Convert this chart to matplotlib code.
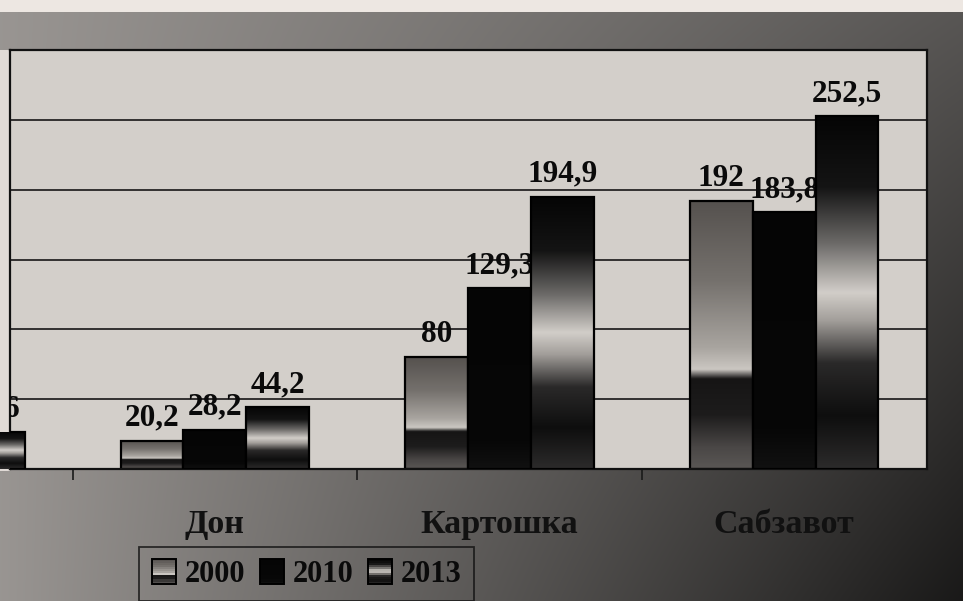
import numpy as np
import matplotlib
matplotlib.use("Agg")
import matplotlib.pyplot as plt
from matplotlib.colors import LinearSegmentedColormap
from matplotlib.patches import Patch, Rectangle
from matplotlib.legend_handler import HandlerBase

# ---------------- data ----------------
categories = ["Пахта", "Дон", "Картошка", "Сабзавот"]
series_names = ["2000", "2010", "2013"]
values_2000 = [12.0, 20.2, 80.0, 192.0]
values_2010 = [18.0, 28.2, 129.3, 183.8]
values_2013 = [26.6, 44.2, 194.9, 252.5]
y_ticks = [0, 50, 100, 150, 200, 250, 300]

series_values = [values_2000, values_2010, values_2013]

# ---------------- style ----------------
FONT = "Liberation Serif"
W_PX, H_PX = 963, 601
fig = plt.figure(figsize=(W_PX / 100, H_PX / 100), dpi=100)

# photographic background (gradient)
ax_bg = fig.add_axes([0, 0, 1, 1], zorder=-1)
ax_bg.set_axis_off()
yy = np.linspace(0, 1, H_PX)[:, None]
xx = np.linspace(0, 1, W_PX)[None, :]
val = 0.60 - 0.25 * xx - 0.25 * xx * yy
val = np.broadcast_to(val, (H_PX, W_PX)).copy()
val[:12, :] = 0.93
rows = np.arange(H_PX)
mask = ((rows >= 50) & (rows <= 470))[:, None]
val[:, :10] = np.where(mask, 0.88, val[:, :10])
rgb = np.stack([val * 1.0, val * 0.975, val * 0.955], axis=-1).clip(0, 1)
ax_bg.imshow(rgb, extent=(0, 1, 0, 1), aspect="auto", origin="upper")
ax_bg.set_xlim(0, 1)
ax_bg.set_ylim(0, 1)

# main axes
left, right = 10 / W_PX, 927 / W_PX
bottom, top = (H_PX - 469) / H_PX, (H_PX - 50) / H_PX
ax = fig.add_axes([left, bottom, right - left, top - bottom])
ax.set_facecolor("#d3cfca")

stops = [
    [(0.00, "#55514e"), (0.30, "#75716d"), (0.55, "#a9a5a0"),
     (0.63, "#cbc7c2"), (0.665, "#161515"), (0.80, "#1d1c1c"),
     (0.92, "#4a4746"), (1.00, "#5a5755")],
    [(0.0, "#050505"), (0.85, "#070707"), (1.0, "#111111")],
    [(0.00, "#050505"), (0.20, "#141414"), (0.36, "#6c6a68"),
     (0.50, "#d2cec9"), (0.58, "#a29e9a"), (0.70, "#2a2929"),
     (0.85, "#0e0e0e"), (1.00, "#2c2b2b")],
]
cmaps = [LinearSegmentedColormap.from_list(f"s{k}", s) for k, s in enumerate(stops)]

n = len(series_names)
bar_w = 0.221
x = np.arange(len(categories))
grad = np.linspace(0, 1, 256)[:, None]

for i, (name, vals) in enumerate(zip(series_names, series_values)):
    offs = (i - (n - 1) / 2) * bar_w
    z = 2 + 2 * i
    bars = ax.bar(x + offs, vals, width=bar_w, color=cmaps[i](0.5),
                  edgecolor="none", zorder=z)
    for b in bars:
        bx, bw, bh = b.get_x(), b.get_width(), b.get_height()
        im = ax.imshow(grad, cmap=cmaps[i], extent=(bx, bx + bw, 0, bh),
                       origin="upper", aspect="auto", zorder=z + 0.1,
                       interpolation="bilinear")
        im.set_clip_path(b)
    ax.bar(x + offs, vals, width=bar_w, fill=False, edgecolor="black",
           linewidth=1.6, zorder=z + 0.2)
    for xi, v in zip(x + offs, vals):
        s = (str(int(v)) if float(v).is_integer() else f"{v:.1f}").replace(".", ",")
        ax.annotate(s, (xi, v), xytext=(0, 6), textcoords="offset points",
                    ha="center", va="bottom", fontsize=22.5, fontweight="bold",
                    family=FONT, color="#0a0a0a", zorder=z + 1,
                    annotation_clip=False, clip_on=True)

ax.set_yticks(y_ticks)
ax.set_yticklabels([])
ax.tick_params(axis="y", length=0)
ax.grid(axis="y", color="#262424", linewidth=1.3, zorder=0.5)
ax.set_axisbelow(True)

ax.set_xticks(x)
ax.set_xticklabels(categories, fontsize=24.5, fontweight="bold", family=FONT,
                   color="#111111")
ax.tick_params(axis="x", which="major", length=0, pad=29)
ax.set_xticks(x[:-1] + 0.5, minor=True)
ax.tick_params(axis="x", which="minor", length=8, width=1.2, color="#1a1a1a",
               direction="out")

# limits last (set_xticks may expand the view)
ax.set_xlim(0.28, 3.502)
ax.set_ylim(0, 300)

for sp in ax.spines.values():
    sp.set_color("#111111")
    sp.set_linewidth(1.6)


class GradientSquareHandler(HandlerBase):
    """Legend key drawn as horizontal colour bands sampled from a colormap."""
    def __init__(self, cmap, nbands=12):
        super().__init__()
        self.cmap = cmap
        self.nbands = nbands

    def create_artists(self, legend, orig_handle, xdescent, ydescent,
                       width, height, fontsize, trans):
        side = min(width, height)
        x0 = -xdescent + (width - side) / 2
        y0 = -ydescent + (height - side) / 2
        arts = []
        hb = side / self.nbands
        for k in range(self.nbands):
            frac = (k + 0.5) / self.nbands
            r = Rectangle((x0, y0 + side - (k + 1) * hb), side, hb * 1.02,
                          facecolor=self.cmap(frac), edgecolor="none",
                          transform=trans)
            arts.append(r)
        arts.append(Rectangle((x0, y0), side, side, fill=False,
                              edgecolor="black", linewidth=1.4, transform=trans))
        return arts


handles = [Patch(label=s) for s in series_names]
leg = fig.legend(handles, series_names, loc="upper left",
                 bbox_to_anchor=(139 / W_PX, 1 - 547 / H_PX),
                 ncol=3, frameon=True, fancybox=False,
                 prop={"family": FONT, "weight": "bold", "size": 22},
                 handlelength=0.85, handleheight=0.85, handletextpad=0.25,
                 columnspacing=0.45, borderpad=0.4, borderaxespad=0,
                 handler_map={h: GradientSquareHandler(cmaps[k])
                              for k, h in enumerate(handles)})
leg.get_frame().set_edgecolor("#111111")
leg.get_frame().set_facecolor("none")
leg.get_frame().set_linewidth(1.3)
for t in leg.get_texts():
    t.set_color("#0a0a0a")

fig.savefig("out.png", dpi=100)
